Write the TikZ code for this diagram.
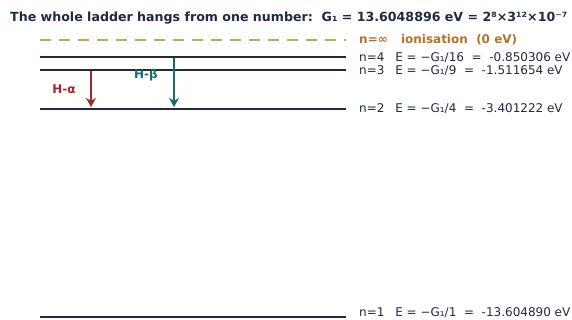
\documentclass[tikz,border=0pt]{standalone}
\usepackage{fontspec}
\setmainfont{DejaVu Sans}
\usepackage{tikz}
\usetikzlibrary{arrows.meta}

\definecolor{navy}{HTML}{1F2A44}
\definecolor{ionis}{HTML}{C9A552}
\definecolor{ionistext}{HTML}{B5712A}
\definecolor{alphared}{HTML}{A3282C}
\definecolor{betateal}{HTML}{1B6B6E}

\tikzset{
  level/.style={navy, line width=2.4pt},
  lvllabel/.style={anchor=west, text=navy, font=\fontsize{12}{14}\selectfont, inner sep=0pt},
  trans/.style={line width=2.6pt, -{Stealth[length=9pt,width=10pt]}},
}

\begin{document}
\begin{tikzpicture}[x=1pt,y=-1pt]

\useasboundingbox (0,0) rectangle (572,320);

\node(title)[anchor=west, text=navy, inner sep=0pt, font=\bfseries\fontsize{12.6}{14}\selectfont] at (10, 18)
  {The whole ladder hangs from one number:\ \ G₁ = 13.6048896 eV = 2⁸×3¹²×10⁻⁷};

% levels
\draw[ionis, line width=2.8pt, dash pattern=on 11pt off 8pt] (40,40) -- (346,40);
\draw[level] (40,57) -- (346,57);
\draw[level] (40,70) -- (346,70);
\draw[level] (40,109) -- (346,109);
\draw[level] (40,317) -- (346,317);

\node(ninf)[lvllabel, text=ionistext, font=\bfseries\fontsize{12}{14}\selectfont] at (359,40)
  {n=∞\hspace{1.1em}ionisation\ \ (0 eV)};
\node(n4)[lvllabel] at (359,58) {n=4\hspace{0.9em}E = −G₁/16\ \ =\ \ -0.850306 eV};
\node(n3)[lvllabel] at (359,71) {n=3\hspace{0.9em}E = −G₁/9\ \ =\ \ -1.511654 eV};
\node(n2)[lvllabel] at (359,109) {n=2\hspace{0.9em}E = −G₁/4\ \ =\ \ -3.401222 eV};
\node(n1)[lvllabel] at (359,313) {n=1\hspace{0.9em}E = −G₁/1\ \ =\ \ -13.604890 eV};

% transitions
\coordinate(a3) at (91,71);
\coordinate(a2) at (91,107);
\coordinate(b4) at (174,58);
\coordinate(b2) at (174,107);

\draw[trans, alphared] (a3) -- (a2);
\draw[trans, betateal] (b4) -- (b2);

\node(halpha)[text=alphared, font=\bfseries\fontsize{12}{14}\selectfont] at (64,89) {H-α};
\node(hbeta)[text=betateal, font=\bfseries\fontsize{12}{14}\selectfont] at (146,75) {H-β};

\end{tikzpicture}
\end{document}
